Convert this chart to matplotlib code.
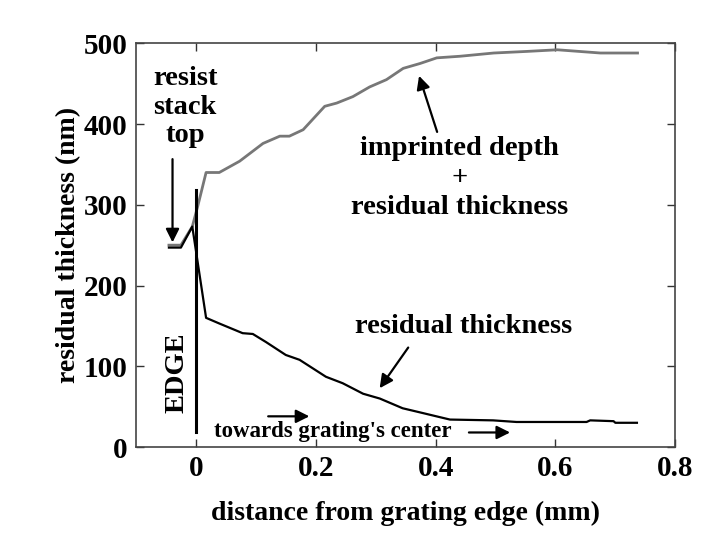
import numpy as np
import matplotlib
matplotlib.use("Agg")
import matplotlib.pyplot as plt

plt.rcParams['font.family'] = ['Liberation Serif', 'DejaVu Serif']
plt.rcParams['font.weight'] = 'bold'

# imprinted depth + residual thickness (gray curve)
x_total = [-0.045, -0.025, -0.006, 0.003, 0.017, 0.039, 0.073, 0.112, 0.140, 0.156,
           0.179, 0.215, 0.235, 0.262, 0.290, 0.318, 0.346, 0.374, 0.402, 0.441,
           0.497, 0.553, 0.603, 0.675, 0.737]
y_total = [250, 250, 273, 298, 340, 340, 354, 376, 385, 385,
           393, 422, 426, 434, 446, 455, 469, 475, 482, 484,
           488, 490, 492, 488, 488]

# residual thickness (black curve)
x_resid = [-0.045, -0.025, -0.006, 0.017, 0.039, 0.078, 0.095, 0.117, 0.150, 0.173,
           0.217, 0.245, 0.279, 0.307, 0.345, 0.379, 0.407, 0.424, 0.496, 0.535,
           0.652, 0.658, 0.697, 0.700, 0.736]
y_resid = [247, 247, 273, 160, 153, 141, 140, 130, 114, 108,
           87, 79, 66, 60, 48, 42, 37, 34, 33, 31,
           31, 33, 32, 30, 30]

xticks = [0, 0.2, 0.4, 0.6, 0.8]
xtick_labels = ['0', '0.2', '0.4', '0.6', '0.8']
yticks = [0, 100, 200, 300, 400, 500]

fig = plt.figure(figsize=(7.24, 5.47), dpi=100)
ax = fig.add_axes([0.1878, 0.1828, 0.7449, 0.738])

ax.plot(x_total, y_total, color='#777777', lw=2)
ax.plot(x_resid, y_resid, color='black', lw=1.6)

# edge line
ax.plot([0, 0], [18, 318], color='black', lw=2.2)

ax.set_xlim(-0.1, 0.8)
ax.set_ylim(0, 500)
ax.set_xticks(xticks)
ax.set_xticklabels(xtick_labels)
ax.set_yticks(yticks)
ax.tick_params(direction='in', length=6, width=1, top=True, right=True,
               labelsize=21, colors='#333333', labelcolor='black', pad=6)
for s in ax.spines.values():
    s.set_color('#444444')
    s.set_linewidth(1.2)

ax.set_xlabel('distance from grating edge (mm)', fontsize=20, fontweight='bold',
              labelpad=13)
ax.set_ylabel('residual thickness (nm)', fontsize=20, fontweight='bold',
              labelpad=2)

arrow = dict(arrowstyle='-|>', color='black', lw=1.6, mutation_scale=20)

ax.text(-0.018, 421, 'resist\nstack\ntop', ha='center', va='center',
        fontsize=20.5, fontweight='bold', linespacing=1.2)
ax.annotate('', xy=(-0.039, 250), xytext=(-0.039, 360), arrowprops=arrow)

ax.text(0.44, 333, 'imprinted depth\n+\nresidual thickness', ha='center',
        va='center', fontsize=20.5, fontweight='bold', linespacing=1.25)
ax.annotate('', xy=(0.371, 463), xytext=(0.404, 387), arrowprops=arrow)

ax.text(0.446, 149, 'residual thickness', ha='center', va='center',
        fontsize=20.5, fontweight='bold')
ax.annotate('', xy=(0.304, 70), xytext=(0.357, 126), arrowprops=arrow)

ax.text(-0.032, 92, 'EDGE', rotation=90, ha='center', va='center',
        fontsize=20.5, fontweight='bold')

ax.text(0.229, 19, "towards grating's center", ha='center', va='center',
        fontsize=16.5, fontweight='bold')
ax.annotate('', xy=(0.194, 38), xytext=(0.116, 38), arrowprops=arrow)
ax.annotate('', xy=(0.529, 18), xytext=(0.451, 18), arrowprops=arrow)

fig.savefig('out.png', dpi=100, facecolor='white')
